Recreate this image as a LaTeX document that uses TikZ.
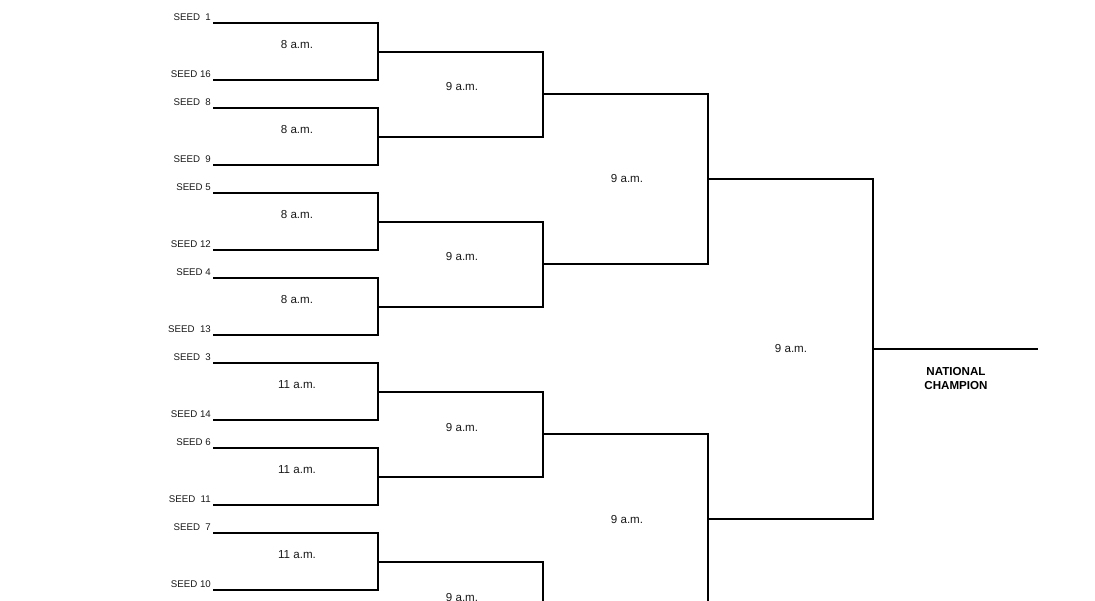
\documentclass[tikz,border=0pt]{standalone}
\usepackage{fontspec}
\setmainfont{Liberation Sans}
\begin{document}
\begin{tikzpicture}[x=1pt,y=-1pt,
  bline/.style={draw=black,line width=1.25pt},
  seedlab/.style={anchor=base east,inner sep=0pt,font=\fontsize{9.7}{10}\selectfont,text=black!90},
  timelab/.style={anchor=center,inner sep=0pt,font=\fontsize{11.6}{12}\selectfont,text=black!90},
  champlab/.style={anchor=center,inner sep=0pt,align=center,font=\fontsize{11.6}{14}\selectfont\bfseries}]
\useasboundingbox (0,0) rectangle (1095,600);
\clip (0,0) rectangle (1095,600);
% round 1
\foreach \i/\ta/\tb/\tm in {0/{SEED\ \ 1}/{SEED 16}/{8 a.m.},1/{SEED\ \ 8}/{SEED\ \ 9}/{8 a.m.},2/{SEED 5}/{SEED 12}/{8 a.m.},3/{SEED 4}/{SEED\ \ 13}/{8 a.m.},4/{SEED\ \ 3}/{SEED 14}/{11 a.m.},5/{SEED 6}/{SEED\ \ 11}/{11 a.m.},6/{SEED\ \ 7}/{SEED 10}/{11 a.m.},7/{}/{}/{}}{
  \pgfmathsetmacro\yt{23+85*\i}
  \pgfmathsetmacro\yb{80+85*\i}
  \coordinate (sa\i) at (213,\yt);
  \coordinate (sb\i) at (213,\yb);
  \coordinate (ma\i) at (378,\yt);
  \coordinate (mb\i) at (378,\yb);
  \draw[bline] (sa\i) -- (ma\i) -- (mb\i) -- (sb\i);
  \node[seedlab] (la\i) at (211,\yt-2.5) {\ta};
  \node[seedlab] (lb\i) at (211,\yb-2.5) {\tb};
  \node[timelab] (t1\i) at (297,\yt+22) {\tm};
}
% round 2
\foreach \j in {0,1,2,3}{
  \pgfmathsetmacro\yt{52+170*\j}
  \pgfmathsetmacro\yb{137+170*\j}
  \coordinate (qa\j) at (378,\yt);
  \coordinate (qb\j) at (378,\yb);
  \coordinate (na\j) at (543,\yt);
  \coordinate (nb\j) at (543,\yb);
  \draw[bline] (qa\j) -- (na\j) -- (nb\j) -- (qb\j);
  \node[timelab] (t2\j) at (462,\yt+35) {9 a.m.};
}
% round 3
\foreach \k in {0,1}{
  \pgfmathsetmacro\yt{94+340*\k}
  \pgfmathsetmacro\yb{264+340*\k}
  \coordinate (ua\k) at (543,\yt);
  \coordinate (ub\k) at (543,\yb);
  \coordinate (va\k) at (708,\yt);
  \coordinate (vb\k) at (708,\yb);
  \draw[bline] (ua\k) -- (va\k) -- (vb\k) -- (ub\k);
  \node[timelab] (t3\k) at (627,\yt+85) {9 a.m.};
}
% round 4
\coordinate (wa) at (708,179);
\coordinate (wb) at (708,519);
\coordinate (xa) at (873,179);
\coordinate (xb) at (873,519);
\draw[bline] (wa) -- (xa) -- (xb) -- (wb);
\node[timelab] (t4) at (791,349) {9 a.m.};
% final
\coordinate (fa) at (873,349);
\coordinate (fb) at (1038,349);
\draw[bline] (fa) -- (fb);
\node[champlab] (champ) at (956,378.5) {NATIONAL\\CHAMPION};
\end{tikzpicture}
\end{document}
